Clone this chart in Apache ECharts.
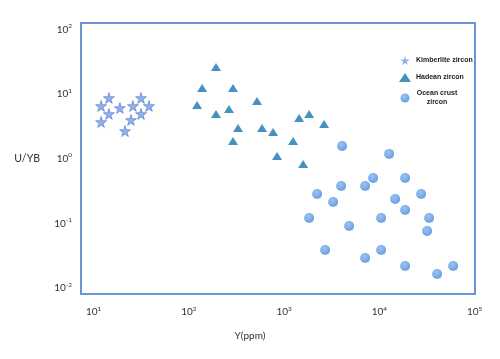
<!DOCTYPE html>
<html><head><meta charset="utf-8">
<script src="https://cdn.jsdelivr.net/npm/echarts@6/dist/echarts.min.js"></script>
<style>html,body{margin:0;padding:0;background:#fff}#c{width:500px;height:359px}</style>
</head><body><div id="c"></div>
<script>
// Kimberlite zircon: [Y (ppm), U/Yb]
const kimberlite = [
  [12.0, 6.57], [14.5, 8.73], [18.9, 6.11], [14.5, 4.94], [12.0, 3.71], [21.4, 2.69],
  [24.7, 3.99], [25.9, 6.57], [31.5, 8.73], [38.2, 6.57], [31.5, 4.94]
];
// Hadean zircon
const hadean = [
  [193, 26.4], [138, 12.5], [291, 12.5], [122, 6.80], [193, 4.94], [264, 5.90],
  [520, 7.85], [329, 3.00], [291, 1.89], [587, 3.00], [766, 2.60], [844, 1.10],
  [1438, 4.28], [1832, 4.94], [2630, 3.46], [1244, 1.89], [1584, 0.831]
];
// Ocean crust zircon
const oceanCrust = [
  [4064, 1.58], [12680, 1.19], [8610, 0.505], [18660, 0.505], [2223, 0.285], [3973, 0.379],
  [7098, 0.379], [3273, 0.214], [1832, 0.121], [4821, 0.0911], [2698, 0.0388], [7098, 0.0291],
  [27480, 0.285], [14660, 0.239], [18660, 0.161], [10450, 0.121], [33340, 0.121], [31770, 0.0762],
  [10450, 0.0388], [18660, 0.0219], [40460, 0.0165], [59570, 0.0219]
];
const seriesNames = ['Kimberlite zircon', 'Hadean zircon', 'Ocean crust zircon'];
const xExtent = [7.38, 101000];
const yExtent = [0.00807, 126.5];
const xTitle = 'Y(ppm)';
const yTitle = 'U/YB';

const STAR = 'path://M50,0 L61,35 L98,35 L68,57 L79,91 L50,70 L21,91 L32,57 L2,35 L39,35 Z';
const FONT = 'Lato';

function powLabel(v) {
  const e = Math.log10(v);
  const r = Math.round(e);
  if (Math.abs(e - r) > 1e-6) return '';
  return '{m|10}{s|' + (r < 0 ? '-' + (-r) : r) + '}';
}
const richSup = {
  m: { fontSize: 10, fontFamily: FONT, color: '#333', lineHeight: 14 },
  s: { fontSize: 6.5, fontFamily: FONT, color: '#333', verticalAlign: 'top', lineHeight: 14 }
};

const chart = echarts.init(document.getElementById('c'), null, { renderer: 'canvas' });
chart.setOption({
  animation: false,
  backgroundColor: '#fff',
  grid: { left: 81, right: 25, top: 23, bottom: 65, show: true, borderColor: '#6a95d4', borderWidth: 2, backgroundColor: 'transparent' },
  legend: {
    orient: 'vertical', left: 394, top: 51, itemWidth: 12, itemHeight: 9, itemGap: 8,
    data: [
      { name: seriesNames[0], icon: STAR, itemStyle: { borderWidth: 0 } },
      { name: seriesNames[1], icon: 'triangle' },
      { name: seriesNames[2], icon: 'circle' }
    ],
    formatter: function (name) {
      if (name === 'Ocean crust zircon') return '{c|Ocean crust}\n{c|zircon}';
      return '{n|' + name + '}';
    },
    textStyle: {
      rich: {
        n: { fontSize: 7, fontWeight: 'bold', fontFamily: 'Liberation Sans', color: '#222' },
        c: { fontSize: 7, fontWeight: 'bold', fontFamily: 'Liberation Sans', color: '#222', width: 42, align: 'center', lineHeight: 9 }
      }
    }
  },
  xAxis: {
    type: 'log', logBase: 10, min: xExtent[0], max: xExtent[1],
    name: xTitle, nameLocation: 'middle', nameGap: 37,
    nameTextStyle: { fontFamily: FONT, fontSize: 10, color: '#333', padding: [0, 56, 0, 0] },
    axisLine: { show: false }, axisTick: { show: false }, splitLine: { show: false },
    axisLabel: { margin: 11, formatter: powLabel, rich: richSup, showMinLabel: false }
  },
  yAxis: {
    type: 'log', logBase: 10, min: yExtent[0], max: yExtent[1],
    name: yTitle, nameLocation: 'middle', nameGap: 41, nameRotate: 0,
    nameTextStyle: { fontFamily: FONT, fontSize: 10.5, color: '#333', padding: [0, 0, 16, 0] },
    axisLine: { show: false }, axisTick: { show: false }, splitLine: { show: false },
    axisLabel: { margin: 9, formatter: powLabel, rich: richSup, showMinLabel: false, showMaxLabel: false }
  },
  series: [
    {
      name: seriesNames[0], type: 'scatter', data: kimberlite, symbol: STAR, symbolSize: 11,
      itemStyle: { color: '#7a9ce6', borderColor: '#4a7ccc', borderWidth: 0.8 }
    },
    {
      name: seriesNames[1], type: 'scatter', data: hadean, symbol: 'triangle', symbolSize: [10, 8],
      itemStyle: { color: '#1877ae' }
    },
    {
      name: seriesNames[2], type: 'scatter', data: oceanCrust, symbol: 'circle', symbolSize: 10,
      itemStyle: {
        color: { type: 'radial', x: 0.4, y: 0.35, r: 0.7, colorStops: [{ offset: 0, color: '#84b4f2' }, { offset: 1, color: '#3f82d8' }] }
      }
    }
  ]
});
</script></body></html>
